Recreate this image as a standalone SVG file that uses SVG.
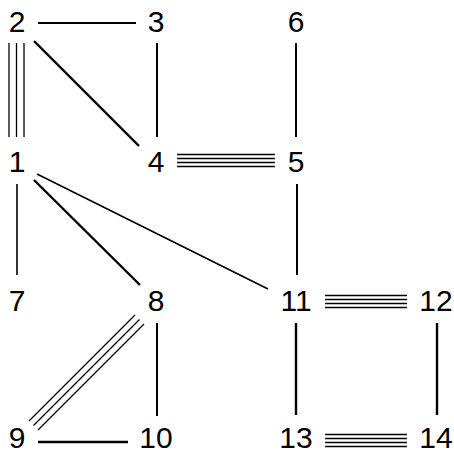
<svg xmlns="http://www.w3.org/2000/svg" width="454" height="453" viewBox="0 0 454 453">
<style>
text{font-family:"Liberation Sans",Arial,sans-serif;font-size:30px;fill:#000;text-anchor:middle}
line{stroke:#000;fill:none}
.s{stroke-width:2}
.t{stroke-width:2.4}
.m{stroke-width:1.6}
.h{stroke-width:1.3}
</style>
<rect width="454" height="453" fill="#fff"/>
<g id="connectors">
<line class="s" x1="38" y1="23" x2="136" y2="23"/>
<line class="s" x1="157" y1="43" x2="157" y2="137"/>
<line class="t" x1="34" y1="41" x2="139" y2="146"/>
<line class="h" x1="9" y1="43" x2="9" y2="137"/>
<line class="h" x1="16.5" y1="43" x2="16.5" y2="137"/>
<line class="h" x1="24" y1="43" x2="24" y2="137"/>
<line class="s" x1="296" y1="43" x2="296" y2="137"/>
<line class="h" x1="177" y1="154.5" x2="275" y2="154.5"/>
<line class="h" x1="177" y1="158.5" x2="275" y2="158.5"/>
<line class="h" x1="177" y1="162.5" x2="275" y2="162.5"/>
<line class="h" x1="177" y1="166.5" x2="275" y2="166.5"/>
<line class="m" x1="17" y1="184" x2="17" y2="275"/>
<line class="t" x1="34" y1="180" x2="140" y2="285"/>
<line class="m" x1="37" y1="174" x2="268" y2="289"/>
<line class="s" x1="297" y1="184" x2="297" y2="275"/>
<line class="h" x1="29" y1="421" x2="135" y2="315"/>
<line class="h" x1="33.5" y1="425.5" x2="139.5" y2="319.5"/>
<line class="h" x1="38" y1="430" x2="144" y2="324"/>
<line class="s" x1="157" y1="323" x2="157" y2="416"/>
<line class="t" x1="38" y1="442" x2="128" y2="442"/>
<line class="h" x1="325" y1="295.5" x2="407" y2="295.5"/>
<line class="h" x1="325" y1="299.5" x2="407" y2="299.5"/>
<line class="h" x1="325" y1="303.5" x2="407" y2="303.5"/>
<line class="h" x1="325" y1="307.5" x2="407" y2="307.5"/>
<line class="t" x1="296" y1="323" x2="296" y2="415"/>
<line class="t" x1="437" y1="323" x2="437" y2="415"/>
<line class="h" x1="325" y1="434.5" x2="407" y2="434.5"/>
<line class="h" x1="325" y1="438.5" x2="407" y2="438.5"/>
<line class="h" x1="325" y1="442.5" x2="407" y2="442.5"/>
<line class="h" x1="325" y1="446.5" x2="407" y2="446.5"/>
</g>
<g id="n2"><text x="17" y="32">2</text></g>
<g id="n3"><text x="156" y="32">3</text></g>
<g id="n6"><text x="296" y="32">6</text></g>
<g id="n1"><text x="17" y="172">1</text></g>
<g id="n4"><text x="156" y="172">4</text></g>
<g id="n5"><text x="296" y="172">5</text></g>
<g id="n7"><text x="17" y="311">7</text></g>
<g id="n8"><text x="156" y="311">8</text></g>
<g id="n11"><text x="296" y="311">11</text></g>
<g id="n12"><text x="436" y="311">12</text></g>
<g id="n9"><text x="17" y="448">9</text></g>
<g id="n10"><text x="156" y="448">10</text></g>
<g id="n13"><text x="296" y="448">13</text></g>
<g id="n14"><text x="436" y="448">14</text></g>
</svg>
